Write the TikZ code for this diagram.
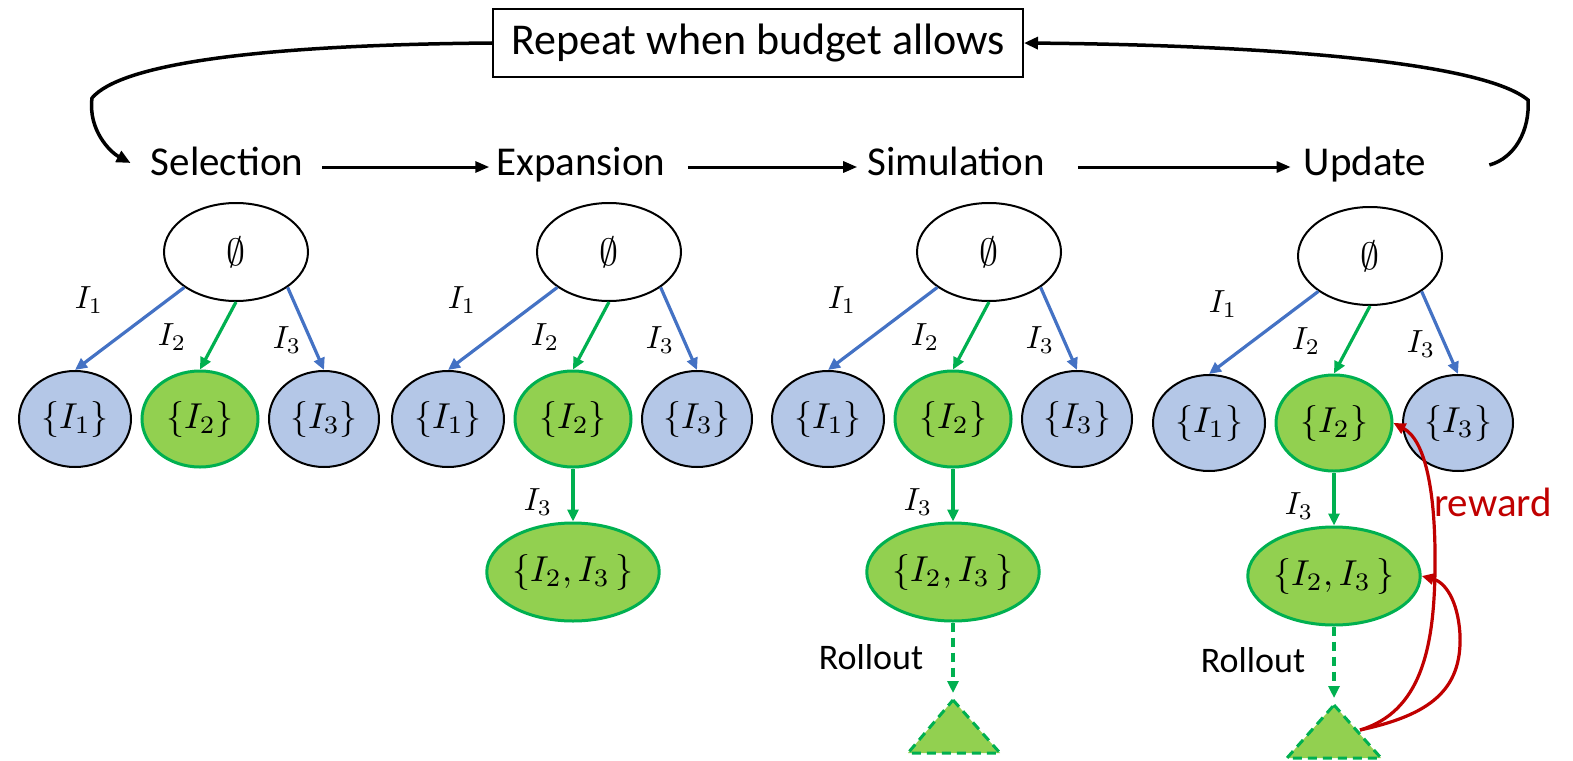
\documentclass[tikz,border=0pt]{standalone}
\usepackage{fontspec}
\setmainfont{Carlito}
\usetikzlibrary{arrows.meta,shapes.geometric}
\definecolor{nblue}{HTML}{B4C7E7}
\definecolor{ablue}{HTML}{4472C4}
\definecolor{ngreen}{HTML}{92D050}
\definecolor{agreen}{HTML}{00B050}
\definecolor{ared}{HTML}{C00000}
\newcommand{\nodemath}[1]{{\fontsize{10}{12}\selectfont\scalebox{3.6}{$#1$}}}
\newcommand{\edgemath}[1]{{\fontsize{10}{12}\selectfont\scalebox{3.2}{$#1$}}}
\newcommand{\rootmath}[1]{{\fontsize{10}{12}\selectfont\scalebox{3.8}{$#1$}}}
\tikzset{
  rootnode/.style={ellipse, draw=black, line width=2pt, fill=white, minimum width=144pt, minimum height=98pt, inner sep=0pt},
  bnode/.style={ellipse, draw=black, line width=2pt, fill=nblue, minimum width=112pt, minimum height=96pt, inner sep=0pt},
  gnode/.style={ellipse, draw=agreen, line width=3pt, fill=ngreen, minimum width=116pt, minimum height=96pt, inner sep=0pt},
  barrow/.style={draw=ablue, line width=3.2pt, -{Triangle[length=12pt,width=11pt]}},
  garrow/.style={draw=agreen, line width=3.2pt, -{Triangle[length=12pt,width=11pt]}},
  rollarrow/.style={draw=agreen, line width=3.2pt, dash pattern=on 9pt off 6pt, -{Triangle[length=12pt,width=11pt]}},
  rarrow/.style={draw=ared, line width=3.2pt, -{Triangle[length=12pt,width=11pt]}},
  elabel/.style={inner sep=0pt},
  stage/.style={font=\fontsize{41}{47}\selectfont, anchor=base, inner sep=0pt},
  sarrow/.style={draw=black, line width=3pt, -{Triangle[length=14pt,width=11pt]}},
  loopline/.style={draw=black, line width=3.5pt, -{Triangle[length=14pt,width=12pt]}},
  smalltext/.style={font=\fontsize{36}{42}\selectfont, inner sep=0pt},
  tri/.style={draw=agreen, fill=ngreen, line width=3pt, dash pattern=on 9pt off 6pt, line join=miter}
}
\begin{document}
\begin{tikzpicture}[x=1pt,y=-1pt]
\useasboundingbox (0,0) rectangle (1573,760);

% top box
\node[draw=black, line width=2pt, minimum width=530pt, minimum height=68pt, inner sep=0pt,
      font=\fontsize{44}{50}\selectfont] (box) at (758,43) {Repeat when budget allows};

% stage labels
\node[stage] (sSel) at (227,175) {Selection};
\node[stage] (sExp) at (581,175) {Expansion};
\node[stage] (sSim) at (956,175) {Simulation};
\node[stage] (sUpd) at (1365,175) {Update};

\draw[sarrow] ([xshift=19pt,yshift=8pt]sSel.base east) -- ([xshift=-7pt,yshift=8pt]sExp.base west);
\draw[sarrow] ([xshift=22pt,yshift=8pt]sExp.base east) -- ([xshift=-10pt,yshift=8pt]sSim.base west);
\draw[sarrow] ([xshift=33pt,yshift=8pt]sSim.base east) -- ([xshift=-13pt,yshift=8pt]sUpd.base west);

% loop curves
\coordinate (lbend) at (92,98);
\coordinate (rbend) at (1528,100);
\draw[loopline] (box.west) .. controls (250,45) and (120,65) .. (lbend)
   .. controls (88,130) and (110,152) .. ([xshift=-20pt,yshift=12pt]sSel.base west);
\draw[loopline] ([xshift=63pt,yshift=10pt]sUpd.base east) .. controls (1515,158) and (1530,130) .. (rbend)
   .. controls (1480,60) and (1250,45) .. (box.east);

% trees
\foreach \t/\cx/\dy in {1/200/0, 2/573/0, 3/953/0, 4/1334/4} {
  \node[rootnode] (r\t) at ({\cx+36},{252+\dy}) {\rootmath{\emptyset}};
  \node[bnode] (a\t) at ({\cx-125},{419+\dy}) {\nodemath{\{I_1\}}};
  \node[gnode] (b\t) at (\cx,{419+\dy}) {\nodemath{\{I_2\}}};
  \node[bnode, minimum width=110pt] (c\t) at ({\cx+124},{419+\dy}) {\nodemath{\{I_3\}}};
  \draw[barrow] (r\t.south west) -- (a\t.north);
  \draw[garrow] (r\t.south) -- (b\t.north);
  \draw[barrow] (r\t.south east) -- (c\t.north);
  \node[elabel] (la\t) at ({\cx-111},{300+\dy}) {\edgemath{I_1}};
  \node[elabel] (lb\t) at ({\cx-28},{337+\dy}) {\edgemath{I_2}};
  \node[elabel] (lc\t) at ({\cx+87},{340+\dy}) {\edgemath{I_3}};
}
\foreach \t/\cx/\dy in {2/573/0, 3/953/0, 4/1334/4} {
  \node[gnode, minimum width=170pt, minimum height=98pt] (d\t) at (\cx,{572+\dy}) {\nodemath{\{I_2,I_3\,\}}};
  \draw[garrow] (b\t.south) -- (d\t.north);
  \node[elabel] (ld\t) at ({\cx-35},{502+\dy}) {\edgemath{I_3}};
}

% rollouts
\coordinate (ap3) at (953,700);
\coordinate (ap4) at (1334,705);
\draw[tri] (ap3) -- (1000,753) -- (908,753) -- cycle;
\draw[tri] (ap4) -- (1381,758) -- (1287,758) -- cycle;
\draw[rollarrow] (d3.south) -- ([yshift=7pt]ap3);
\draw[rollarrow] (d4.south) -- ([yshift=7pt]ap4);
\node[smalltext] (ro3) at (871,657) {Rollout};
\node[smalltext] (ro4) at (1253,660) {Rollout};

% reward arrows
\coordinate (tr) at (1360,730);
\draw[rarrow] (tr) .. controls (1420,712) and (1434,650) .. (1435,570)
   .. controls (1436,490) and (1425,440) .. (b4.east);
\draw[rarrow] (tr) .. controls (1430,715) and (1462,690) .. (1460,635)
   .. controls (1458,600) and (1445,582) .. (d4.east);
\node[font=\fontsize{41}{47}\selectfont, inner sep=0pt, text=ared] (rw) at (1493,502) {reward};
\end{tikzpicture}
\end{document}
